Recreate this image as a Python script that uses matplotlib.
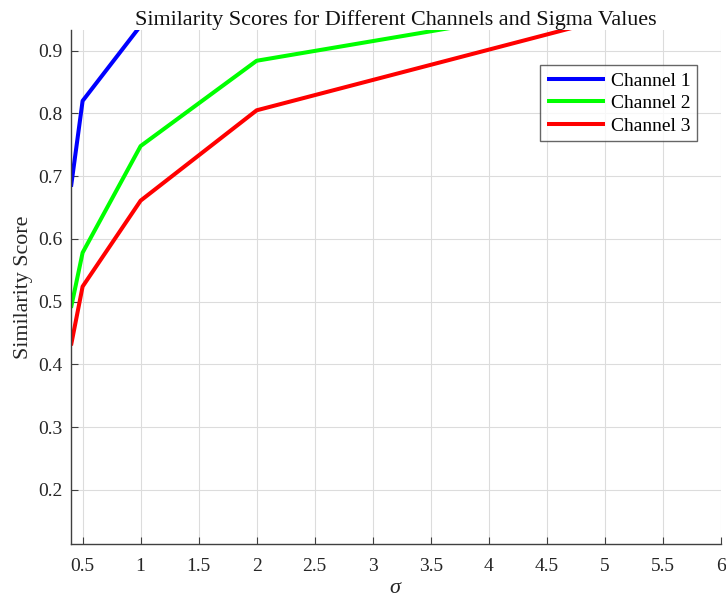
import matplotlib
matplotlib.use("Agg")
import matplotlib.pyplot as plt

plt.rcParams['font.family'] = ['Liberation Serif', 'DejaVu Serif']
plt.rcParams['mathtext.fontset'] = 'custom'
plt.rcParams['mathtext.it'] = 'Liberation Serif:italic'

# sigma values and similarity scores per channel
sigma = [0.4, 0.5, 1, 2, 5]
channel_1 = [0.683, 0.820, 0.940, 0.980, 0.995]
channel_2 = [0.490, 0.578, 0.748, 0.884, 0.978]
channel_3 = [0.430, 0.524, 0.661, 0.805, 0.950]
labels = ['Channel 1', 'Channel 2', 'Channel 3']
colors = ['#0000ff', '#00ff00', '#ff0000']

x_ticks = [0.5, 1, 1.5, 2, 2.5, 3, 3.5, 4, 4.5, 5, 5.5, 6]
x_tick_labels = ['0.5', '1', '1.5', '2', '2.5', '3', '3.5', '4', '4.5', '5', '5.5', '6']
y_ticks = [0.2, 0.3, 0.4, 0.5, 0.6, 0.7, 0.8, 0.9]

fig = plt.figure(figsize=(7.26, 5.97), dpi=100)
ax = fig.add_axes([0.0978, 0.0893, 0.8950, 0.8604])

for ys, lab, col in zip([channel_1, channel_2, channel_3], labels, colors):
    ax.plot(sigma, ys, color=col, lw=2.9, label=lab, solid_capstyle='butt')

ax.set_xlim(0.4, 6.0)
ax.set_ylim(0.114, 0.933)
ax.set_xticks(x_ticks)
ax.set_xticklabels(x_tick_labels)
ax.set_yticks(y_ticks)
ax.set_yticklabels([f'{v:.1f}' for v in y_ticks])

ax.grid(True, color='#dcdcdc', lw=0.8)
ax.set_axisbelow(True)
for s in ['top', 'right']:
    ax.spines[s].set_visible(False)
for s in ['left', 'bottom']:
    ax.spines[s].set_color('#404040')
    ax.spines[s].set_linewidth(1.0)
ax.tick_params(direction='in', length=5, width=0.8, color='#404040',
               labelsize=14, labelcolor='#262626')
ax.tick_params(axis='x', pad=10.5)
ax.tick_params(axis='y', pad=6)

ax.set_title('Similarity Scores for Different Channels and Sigma Values',
             fontsize=15.9, color='#111111', pad=1.5)
ax.set_ylabel('Similarity Score', fontsize=15.8, color='#262626', labelpad=4)
ax.set_xlabel(r'$\sigma$', fontsize=16, color='#262626', labelpad=3)

leg = ax.legend(loc='upper right', bbox_to_anchor=(0.9637, 0.9313),
                borderaxespad=0, fontsize=14, frameon=True, fancybox=False,
                handlelength=3.0, handletextpad=0.3, labelspacing=0.25,
                borderpad=0.35)
leg.get_frame().set_edgecolor('#404040')
leg.get_frame().set_linewidth(1.0)
for h in leg.get_lines():
    h.set_linewidth(2.9)

fig.savefig('out.png', dpi=100)
